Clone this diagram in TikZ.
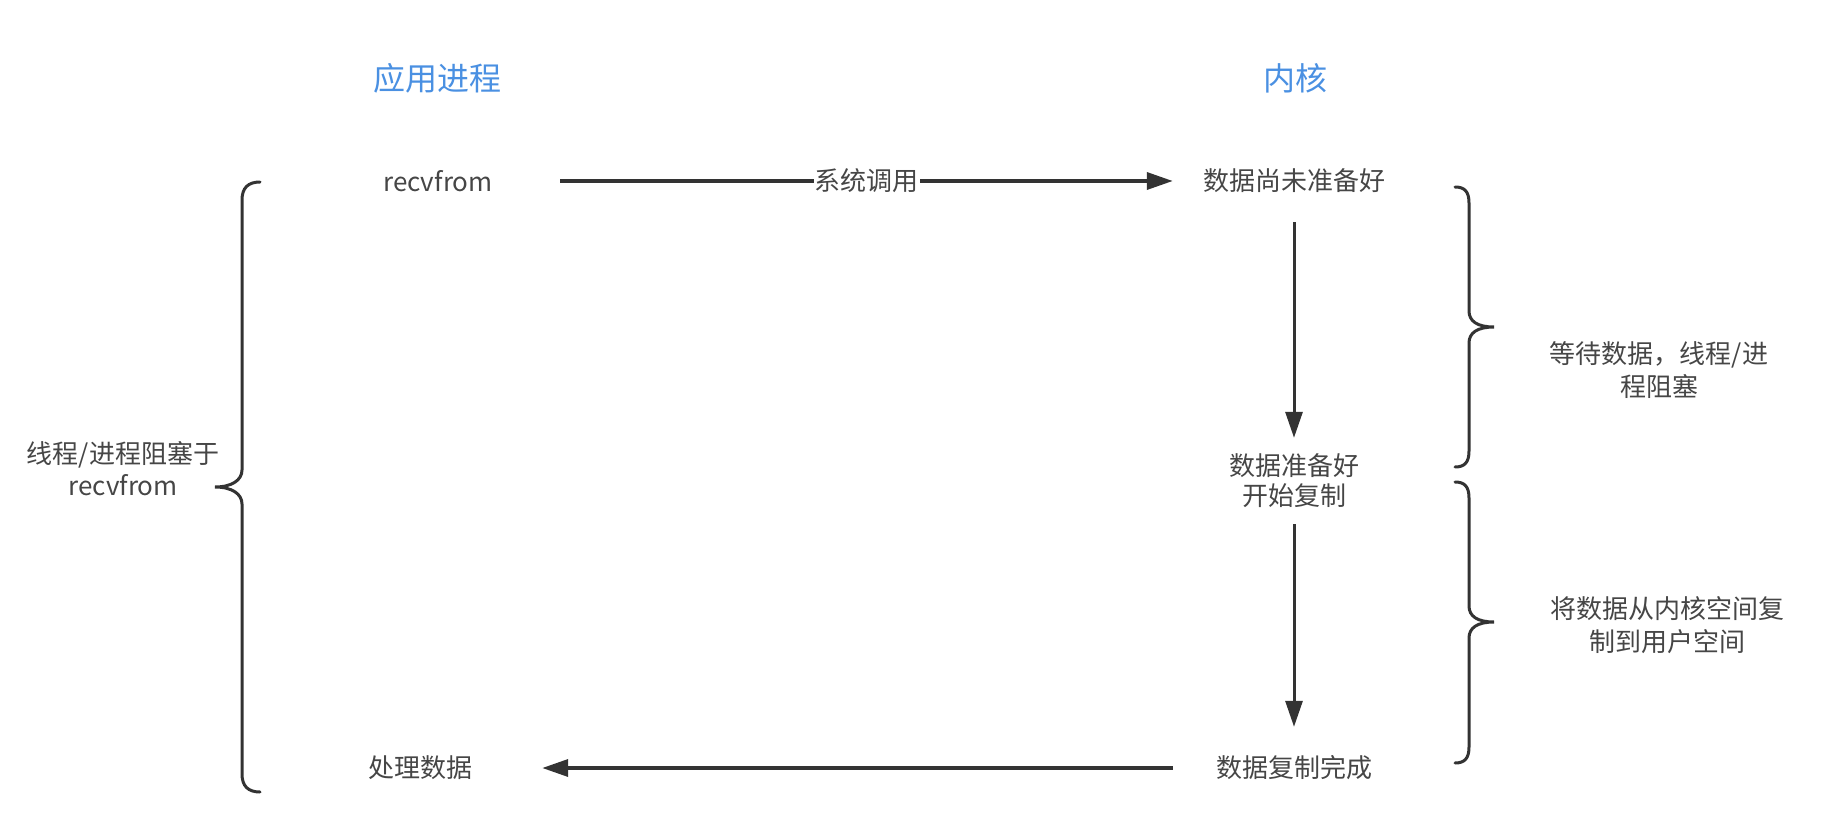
\documentclass[tikz,border=0pt]{standalone}
\usepackage{fontspec}
\setmainfont{Noto Sans CJK SC}
\usetikzlibrary{arrows.meta}
\definecolor{txt}{HTML}{464646}
\definecolor{ln}{HTML}{333333}
\definecolor{ttl}{HTML}{4A90E2}
\tikzset{
  lbl/.style={text=txt, inner sep=0pt, align=center, font=\fontsize{26}{30}\selectfont},
  lbltwo/.style={lbl, font=\fontsize{26}{33}\selectfont},
  ttlnode/.style={text=ttl, inner sep=0pt, font=\fontsize{32}{36}\selectfont},
  arr/.style={draw=ln, line width=3pt, -{Triangle[length=26pt,width=17pt]}},
  harr/.style={arr, line width=3.5pt},
  bracepath/.style={draw=ln, line width=3pt, line cap=round}
}
\begin{document}
\begin{tikzpicture}[x=1pt,y=-1pt]
\useasboundingbox (0,0) rectangle (1836,818);
% titles
\node[ttlnode] (t1) at (437,78) {应用进程};
\node[ttlnode] (t2) at (1295,78) {内核};
% nodes
\node[lbl, minimum width=244pt] (recv) at (438,181) {recvfrom};
\node[lbl, minimum width=242pt, minimum height=82pt] (k1) at (1294,181) {数据尚未准备好};
\node[lbl, minimum height=86pt] (k2) at (1294,481) {数据准备好\\开始复制};
\node[lbl, minimum width=242pt, minimum height=82pt] (k3) at (1294,768) {数据复制完成};
\node[lbl, minimum width=244pt] (proc) at (420,768) {处理数据};
% side labels
\node[lbl, font=\fontsize{26}{32}\selectfont] (lside) at (123,469) {线程/进程阻塞于\\recvfrom};
\node[lbltwo] (r1) at (1659,370) {等待数据，线程/进\\程阻塞};
\node[lbltwo] (r2) at (1667,625) {将数据从内核空间复\\制到用户空间};
% connectors
\draw[harr] (recv.east) -- node[lbl, fill=white, inner sep=1pt] (sys) {系统调用} (k1.west);
\draw[arr] (k1.south) -- (k2.north);
\draw[arr] (k2.south) -- (k3.north);
\draw[harr] (k3.west) -- (proc.east);
% left brace
\draw[bracepath] (260,182) .. controls (248,182) and (242,188) .. (242,200)
  -- (242,470) .. controls (242,480) and (232,487) .. (215,487)
  .. controls (232,487) and (242,494) .. (242,504)
  -- (242,774) .. controls (242,786) and (248,792) .. (260,792);
% right brace 1
\draw[bracepath] (1455,187) .. controls (1465,187) and (1469,192) .. (1469,203)
  -- (1469,311) .. controls (1469,321) and (1477,327) .. (1494,327)
  .. controls (1477,327) and (1469,333) .. (1469,343)
  -- (1469,451) .. controls (1469,462) and (1465,467) .. (1455,467);
% right brace 2
\draw[bracepath] (1455,482) .. controls (1465,482) and (1469,487) .. (1469,498)
  -- (1469,606) .. controls (1469,616) and (1477,622) .. (1494,622)
  .. controls (1477,622) and (1469,628) .. (1469,638)
  -- (1469,747) .. controls (1469,758) and (1465,763) .. (1455,763);
\end{tikzpicture}
\end{document}
